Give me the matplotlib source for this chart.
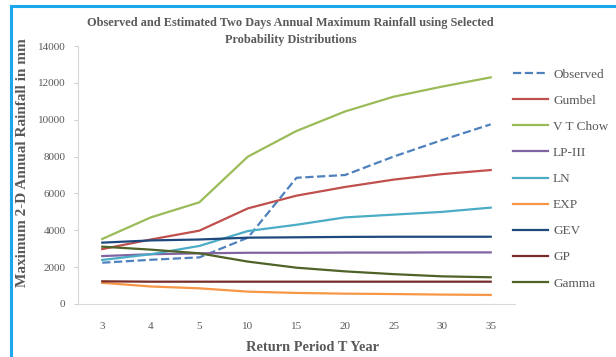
import matplotlib
matplotlib.use("Agg")
import matplotlib.pyplot as plt
from matplotlib.patches import Rectangle

plt.rcParams['font.family'] = ['Liberation Serif', 'DejaVu Serif']

periods = ['3', '4', '5', '10', '15', '20', '25', '30', '35']
observed = [2240, 2400, 2530, 3600, 6850, 7000, 8000, 8900, 9750]
gumbel = [2980, 3500, 3980, 5190, 5880, 6350, 6750, 7050, 7270]
vt_chow = [3530, 4700, 5520, 8000, 9390, 10450, 11250, 11800, 12300]
lp3 = [2600, 2700, 2750, 2780, 2780, 2790, 2790, 2800, 2800]
ln = [2390, 2700, 3150, 3960, 4300, 4700, 4850, 5000, 5230]
exp_ = [1150, 950, 850, 670, 600, 560, 540, 510, 490]
gev = [3330, 3450, 3500, 3600, 3620, 3640, 3650, 3650, 3650]
gp = [1230, 1210, 1210, 1210, 1210, 1210, 1210, 1210, 1210]
gamma = [3110, 2950, 2750, 2300, 1970, 1770, 1620, 1500, 1450]

series = [
    ('Observed', observed, '#4F81BD', '--'),
    ('Gumbel', gumbel, '#C0504D', '-'),
    ('V T Chow', vt_chow, '#9BBB59', '-'),
    ('LP-III', lp3, '#8064A2', '-'),
    ('LN', ln, '#4BACC6', '-'),
    ('EXP', exp_, '#F79646', '-'),
    ('GEV', gev, '#1F497D', '-'),
    ('GP', gp, '#772C2A', '-'),
    ('Gamma', gamma, '#4F6228', '-'),
]

gray = '#595959'

fig = plt.figure(figsize=(6.16, 3.57), dpi=100)
ax = fig.add_axes([0.1266, 0.1485, 0.7094, 0.7225])

x = range(len(periods))
for name, vals, color, ls in series:
    ax.plot(x, vals, color=color, linestyle=ls, linewidth=1.6, label=name)

ax.set_xlim(-0.5, len(periods) - 0.5)
ax.set_ylim(0, 14000)
ax.set_yticks(range(0, 14001, 2000))
ax.set_xticks(list(x))
ax.set_xticklabels(periods)
ax.tick_params(axis='x', length=0, pad=13, labelsize=8, colors=gray)
ax.tick_params(axis='y', length=3, pad=6, labelsize=8, colors=gray, color='#d0d0d0')
for s in ['top', 'right']:
    ax.spines[s].set_visible(False)
for s in ['left', 'bottom']:
    ax.spines[s].set_color('#d9d9d9')

fig.text(0.508, 0.028, 'Return Period T Year', ha='center', va='center',
         fontsize=10.4, fontweight='bold', color=gray)
fig.text(0.037, 0.545, 'Maximum 2-D Annual Rainfall in mm', rotation=90, ha='center', va='center',
         fontsize=11, fontweight='bold', color=gray)
fig.text(0.472, 0.911, 'Observed and Estimated Two Days Annual Maximum Rainfall using Selected\nProbability Distributions',
         ha='center', va='center', fontsize=8.8, fontweight='bold', color=gray, linespacing=1.6)

leg = fig.legend(loc='upper left', bbox_to_anchor=(0.833, 0.808), frameon=False,
                 borderpad=0, borderaxespad=0,
                 fontsize=9.5, handlelength=2.65, handletextpad=0.38, labelspacing=1.05)
for t in leg.get_texts():
    t.set_color(gray)

# blue frame along the top and left edges
fig.patches.append(Rectangle((11 / 616, -0.1), 1.2, 1.1 - 6 / 357, transform=fig.transFigure,
                             fill=False, edgecolor='#1AA7EC', linewidth=2.2))

fig.savefig('out.png', dpi=100)
